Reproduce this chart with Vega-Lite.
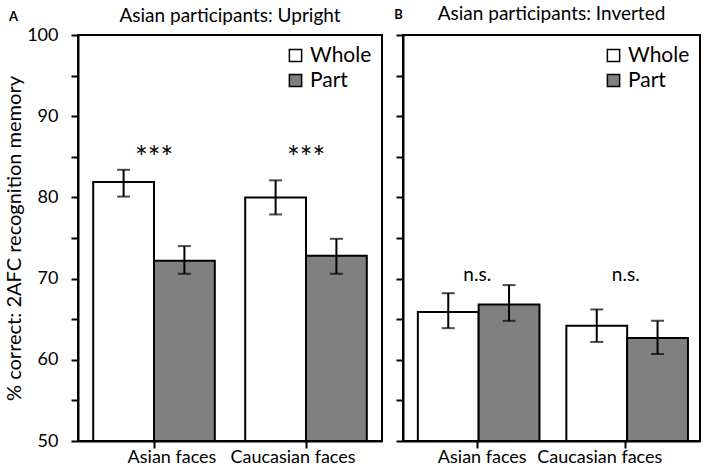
{
  "$schema": "https://vega.github.io/schema/vega-lite/v6.json",
  "description": "Whole vs part recognition memory for Asian participants, upright and inverted faces.",
  "padding": {"left": 3, "top": 4, "right": 4, "bottom": 2},
  "datasets": {
    "bars": [
      {"panel": "A", "face": "Asian faces", "cond": "Whole", "pct": 81.9, "lo": 80.1, "hi": 83.4},
      {"panel": "A", "face": "Asian faces", "cond": "Part", "pct": 72.2, "lo": 70.6, "hi": 74.0},
      {"panel": "A", "face": "Caucasian faces", "cond": "Whole", "pct": 80.0, "lo": 77.9, "hi": 82.1},
      {"panel": "A", "face": "Caucasian faces", "cond": "Part", "pct": 72.8, "lo": 70.6, "hi": 74.9},
      {"panel": "B", "face": "Asian faces", "cond": "Whole", "pct": 65.9, "lo": 63.9, "hi": 68.2},
      {"panel": "B", "face": "Asian faces", "cond": "Part", "pct": 66.8, "lo": 64.8, "hi": 69.2},
      {"panel": "B", "face": "Caucasian faces", "cond": "Whole", "pct": 64.2, "lo": 62.2, "hi": 66.2},
      {"panel": "B", "face": "Caucasian faces", "cond": "Part", "pct": 62.7, "lo": 60.7, "hi": 64.8}
    ],
    "notes": [
      {"panel": "A", "face": "Asian faces", "label": "***", "level": 83.6},
      {"panel": "A", "face": "Caucasian faces", "label": "***", "level": 83.6},
      {"panel": "B", "face": "Asian faces", "label": "n.s.", "level": 69.7},
      {"panel": "B", "face": "Caucasian faces", "label": "n.s.", "level": 69.7}
    ]
  },
  "config": {
    "font": "Lato",
    "view": {"stroke": "black", "strokeWidth": 2},
    "axis": {
      "grid": false,
      "domainColor": "black",
      "domainWidth": 2,
      "tickColor": "black",
      "tickWidth": 2,
      "tickSize": 7,
      "labelColor": "black",
      "labelFontSize": 18,
      "titleColor": "black"
    },
    "legend": {
      "orient": "top-right",
      "offset": 10,
      "title": null,
      "labelFontSize": 21,
      "labelColor": "black",
      "symbolType": "square",
      "symbolSize": 150,
      "symbolStrokeColor": "black",
      "symbolStrokeWidth": 1.5,
      "rowPadding": 3,
      "padding": 0
    },
    "title": {"fontSize": 19, "fontWeight": "normal", "color": "black", "offset": -16}
  },
  "spacing": 21,
  "bounds": "flush",
  "resolve": {"scale": {"fill": "shared"}, "legend": {"fill": "independent"}},
  "hconcat": [
    {
      "title": {"text": "Asian participants: Upright"},
      "width": 304,
      "height": 406,
      "encoding": {
        "x": {
          "field": "face",
          "type": "nominal",
          "sort": ["Asian faces", "Caucasian faces"],
          "scale": {"paddingInner": 0.2, "paddingOuter": 0.1},
          "axis": {
            "labelAngle": 0,
            "labelPadding": 0,
            "labelOffset": {"condition": {"test": "datum.value === 'Asian faces'", "value": 18}, "value": -13},
            "title": "A",
            "titleFontSize": 13,
            "titleFontWeight": "bold",
            "titleAngle": 0,
            "titleAlign": "center",
            "titleBaseline": "middle",
            "titleX": -65,
            "titleY": -425
          }
        }
      },
      "layer": [
        {
          "data": {"name": "bars"},
          "transform": [{"filter": "datum.panel === 'A'"}],
          "mark": {"type": "bar", "stroke": "black", "strokeWidth": 2},
          "encoding": {
            "xOffset": {"field": "cond", "type": "nominal", "sort": ["Whole", "Part"]},
            "y": {
              "field": "pct",
              "type": "quantitative",
              "scale": {"domain": [50, 100], "nice": false, "zero": false},
              "axis": {
                "values": [50, 55, 60, 65, 70, 75, 80, 85, 90, 95, 100],
                "labelExpr": "datum.value % 10 === 0 ? datum.label : ''",
                "labelPadding": 13,
                "title": "% correct: 2AFC recognition memory",
                "titleFontSize": 20,
                "titleFontWeight": "normal",
                "titlePadding": 2
              }
            },
            "y2": {"datum": 50},
            "fill": {
              "field": "cond",
              "type": "nominal",
              "sort": ["Whole", "Part"],
              "scale": {"domain": ["Whole", "Part"], "range": ["#ffffff", "#808080"]}
            }
          }
        },
        {
          "data": {"name": "bars"},
          "transform": [{"filter": "datum.panel === 'A'"}],
          "mark": {"type": "rule", "color": "black", "strokeWidth": 2},
          "encoding": {
            "xOffset": {"field": "cond", "type": "nominal", "sort": ["Whole", "Part"]},
            "y": {"field": "lo", "type": "quantitative"},
            "y2": {"field": "hi"}
          }
        },
        {
          "data": {"name": "bars"},
          "transform": [{"filter": "datum.panel === 'A'"}],
          "mark": {"type": "tick", "color": "black", "size": 13, "thickness": 2, "orient": "horizontal"},
          "encoding": {
            "xOffset": {"field": "cond", "type": "nominal", "sort": ["Whole", "Part"]},
            "y": {"field": "lo", "type": "quantitative"}
          }
        },
        {
          "data": {"name": "bars"},
          "transform": [{"filter": "datum.panel === 'A'"}],
          "mark": {"type": "tick", "color": "black", "size": 13, "thickness": 2, "orient": "horizontal"},
          "encoding": {
            "xOffset": {"field": "cond", "type": "nominal", "sort": ["Whole", "Part"]},
            "y": {"field": "hi", "type": "quantitative"}
          }
        },
        {
          "data": {"name": "notes"},
          "transform": [{"filter": "datum.panel === 'A'"}],
          "mark": {"type": "text", "fontSize": 30, "color": "black", "baseline": "alphabetic"},
          "encoding": {
            "y": {"field": "level", "type": "quantitative"},
            "text": {"field": "label"}
          }
        }
      ]
    },
    {
      "title": {"text": "Asian participants: Inverted"},
      "width": 297,
      "height": 406,
      "encoding": {
        "x": {
          "field": "face",
          "type": "nominal",
          "sort": ["Asian faces", "Caucasian faces"],
          "scale": {"paddingInner": 0.2, "paddingOuter": 0.1},
          "axis": {
            "labelAngle": 0,
            "labelPadding": 0,
            "labelOffset": {"condition": {"test": "datum.value === 'Asian faces'", "value": 5}, "value": -26},
            "title": "B",
            "titleFontSize": 13,
            "titleFontWeight": "bold",
            "titleAngle": 0,
            "titleAlign": "center",
            "titleBaseline": "middle",
            "titleX": -5,
            "titleY": -427
          }
        }
      },
      "layer": [
        {
          "data": {"name": "bars"},
          "transform": [{"filter": "datum.panel === 'B'"}],
          "mark": {"type": "bar", "stroke": "black", "strokeWidth": 2},
          "encoding": {
            "xOffset": {"field": "cond", "type": "nominal", "sort": ["Whole", "Part"]},
            "y": {
              "field": "pct",
              "type": "quantitative",
              "scale": {"domain": [50, 100], "nice": false, "zero": false},
              "axis": {
                "values": [50, 55, 60, 65, 70, 75, 80, 85, 90, 95, 100],
                "labels": false,
                "title": null
              }
            },
            "y2": {"datum": 50},
            "fill": {
              "field": "cond",
              "type": "nominal",
              "sort": ["Whole", "Part"],
              "scale": {"domain": ["Whole", "Part"], "range": ["#ffffff", "#808080"]}
            }
          }
        },
        {
          "data": {"name": "bars"},
          "transform": [{"filter": "datum.panel === 'B'"}],
          "mark": {"type": "rule", "color": "black", "strokeWidth": 2},
          "encoding": {
            "xOffset": {"field": "cond", "type": "nominal", "sort": ["Whole", "Part"]},
            "y": {"field": "lo", "type": "quantitative"},
            "y2": {"field": "hi"}
          }
        },
        {
          "data": {"name": "bars"},
          "transform": [{"filter": "datum.panel === 'B'"}],
          "mark": {"type": "tick", "color": "black", "size": 13, "thickness": 2, "orient": "horizontal"},
          "encoding": {
            "xOffset": {"field": "cond", "type": "nominal", "sort": ["Whole", "Part"]},
            "y": {"field": "lo", "type": "quantitative"}
          }
        },
        {
          "data": {"name": "bars"},
          "transform": [{"filter": "datum.panel === 'B'"}],
          "mark": {"type": "tick", "color": "black", "size": 13, "thickness": 2, "orient": "horizontal"},
          "encoding": {
            "xOffset": {"field": "cond", "type": "nominal", "sort": ["Whole", "Part"]},
            "y": {"field": "hi", "type": "quantitative"}
          }
        },
        {
          "data": {"name": "notes"},
          "transform": [{"filter": "datum.panel === 'B'"}],
          "mark": {"type": "text", "fontSize": 19, "color": "black", "baseline": "alphabetic"},
          "encoding": {
            "y": {"field": "level", "type": "quantitative"},
            "text": {"field": "label"}
          }
        }
      ]
    }
  ]
}
